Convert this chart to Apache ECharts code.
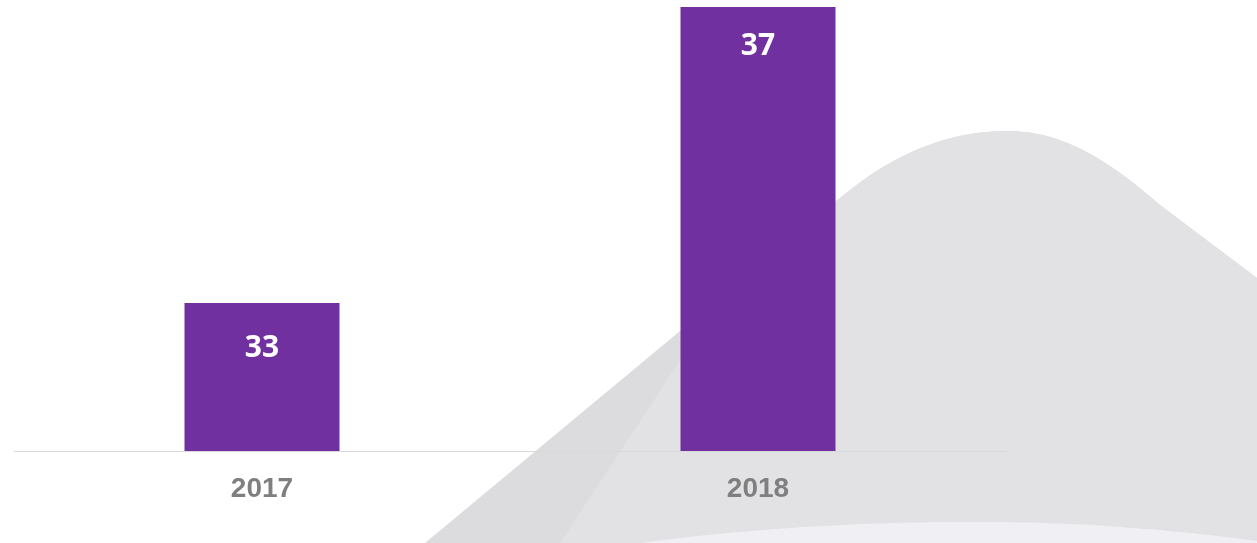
<!DOCTYPE html>
<html>
<head>
<meta charset="utf-8">
<script src="https://cdn.jsdelivr.net/npm/echarts@6/dist/echarts.min.js"></script>
<style>
html,body{margin:0;padding:0;background:#ffffff;}
#chart{width:1257px;height:543px;}
</style>
</head>
<body>
<div id="chart"></div>
<script>
const categories = ['2017', '2018'];
const values = [33, 37];

// decorative background outline helper: segments of lines and cubic beziers -> polygon points
function outline(segs) {
  const pts = [];
  let cur = null;
  segs.forEach(function (s) {
    if (s.length === 2) { pts.push(s); cur = s; }
    else {
      const p0 = cur, c1 = s[0], c2 = s[1], p3 = s[2];
      for (let i = 1; i <= 30; i++) {
        const t = i / 30, u = 1 - t;
        pts.push([
          u*u*u*p0[0] + 3*u*u*t*c1[0] + 3*u*t*t*c2[0] + t*t*t*p3[0],
          u*u*u*p0[1] + 3*u*u*t*c1[1] + 3*u*t*t*c2[1] + t*t*t*p3[1]
        ]);
      }
      cur = p3;
    }
  });
  return pts;
}
const hill = [[840,198], [[895,152],[950,131],[1007,131]], [[1065,131],[1110,162],[1160,205]], [1257,278], [1257,543]];
const shapeA = outline([[425,543]].concat(hill));
const shapeB = outline([[560,543],[700,330],[760,250]].concat(hill));
const shapeC = outline([[640,543], [[760,527],[880,521],[1000,522]], [[1100,523],[1200,533],[1257,541]], [1257,543]]);

const barData = values.map(function (v, i) {
  return { value: v, label: { distance: i === 0 ? 30 : 24 } };
});

const chart = echarts.init(document.getElementById('chart'));
chart.setOption({
  backgroundColor: '#ffffff',
  animation: false,
  graphic: [
    { type: 'polygon', z: -10, silent: true, shape: { points: shapeA }, style: { fill: '#dcdcde' } },
    { type: 'polygon', z: -9, silent: true, shape: { points: shapeB }, style: { fill: '#e2e2e5' } },
    { type: 'polygon', z: -8, silent: true, shape: { points: shapeC }, style: { fill: '#f0f0f4' } }
  ],
  grid: { left: 14, right: 251, top: 7, bottom: 92, containLabel: false },
  xAxis: {
    type: 'category',
    data: categories,
    axisLine: { show: true, lineStyle: { color: '#d9d9d9', width: 1 } },
    axisTick: { show: false },
    axisLabel: {
      color: '#7f7f7f', fontSize: 28, fontWeight: 'bold',
      fontFamily: 'Liberation Sans, Arial, sans-serif', margin: 24
    }
  },
  yAxis: {
    type: 'value', min: 31, max: 37,
    show: false,
    splitLine: { show: false }
  },
  series: [{
    type: 'bar',
    data: barData,
    barWidth: 155,
    itemStyle: { color: '#7030a0' },
    label: {
      show: true, position: 'insideTop', distance: 24,
      color: '#ffffff', fontSize: 30, fontWeight: 'bold',
      fontFamily: 'Open Sans, sans-serif'
    }
  }]
});
</script>
</body>
</html>
